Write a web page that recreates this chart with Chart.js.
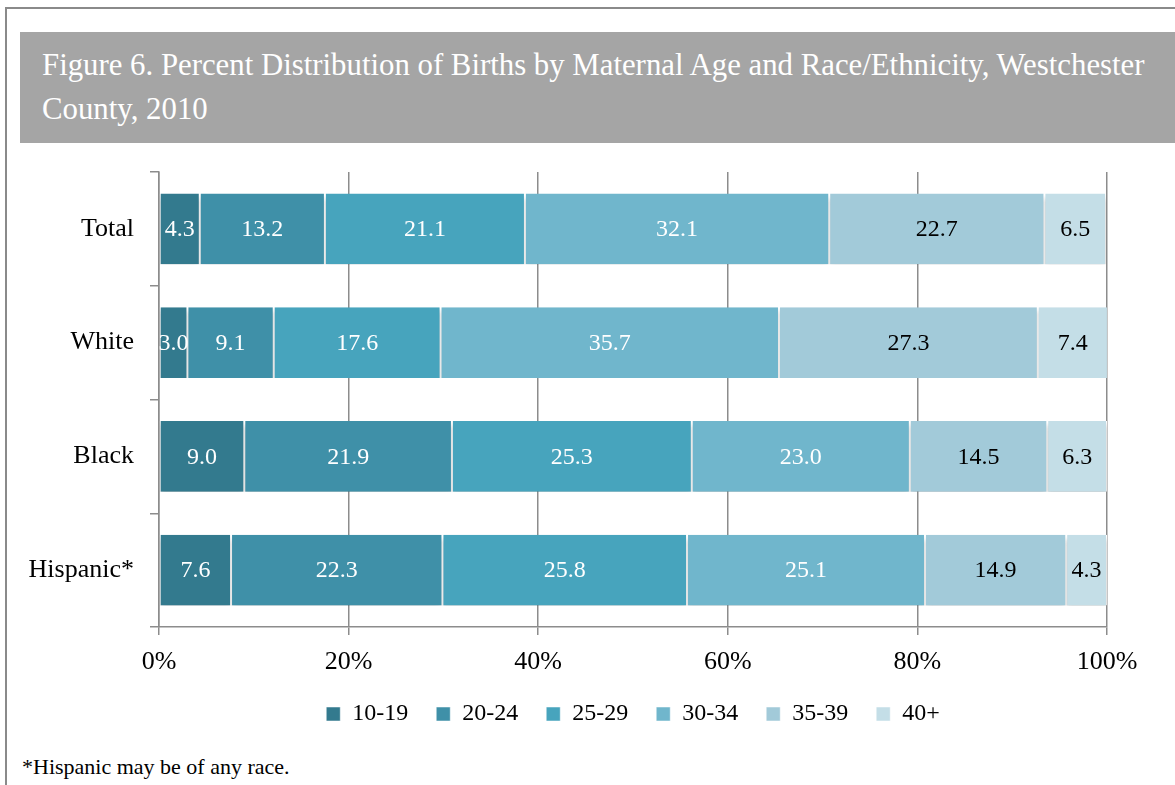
<!DOCTYPE html>
<html>
<head>
<meta charset="utf-8">
<script src="https://cdn.jsdelivr.net/npm/chart.js@4/dist/chart.umd.min.js"></script>
<style>
  body { margin: 0; background: #fff; width: 1175px; height: 785px; overflow: hidden; position: relative; font-family: "Liberation Serif", serif; }
  #frame { position: absolute; left: 5px; top: 7px; width: 1200px; height: 800px; border-left: 2px solid #8a8a8a; border-top: 2px solid #8a8a8a; }
  #title { position: absolute; left: 20px; top: 32px; width: 1160px; height: 111px; background: #a5a5a5; color: #fff; font-size: 30.8px; line-height: 44px; padding: 11px 0 0 22px; box-sizing: border-box; }
  #wrap { position: absolute; left: 0; top: 150px; width: 1175px; height: 594px; }
  #note { position: absolute; left: 22px; top: 754px; font-size: 22px; color: #000; }
</style>
</head>
<body>
<div id="frame"></div>
<div id="title">Figure 6. Percent Distribution of Births by Maternal Age and Race/Ethnicity, Westchester<br>County, 2010</div>
<div id="wrap"><canvas id="chart"></canvas></div>
<div id="note">*Hispanic may be of any race.</div>
<script>
// === данные ===
const groups = ["Total", "White", "Black", "Hispanic*"];
const ageBands = ["10-19", "20-24", "25-29", "30-34", "35-39", "40+"];
const age10to19 = [4.3, 3.0, 9.0, 7.6];
const age20to24 = [13.2, 9.1, 21.9, 22.3];
const age25to29 = [21.1, 17.6, 25.3, 25.8];
const age30to34 = [32.1, 35.7, 23.0, 25.1];
const age35to39 = [22.7, 27.3, 14.5, 14.9];
const age40plus = [6.5, 7.4, 6.3, 4.3];
const xTicks = ["0%", "20%", "40%", "60%", "80%", "100%"];

const colors = ["#337a8e", "#3f90a8", "#47a4bd", "#70b6cc", "#a2cad9", "#c4dee7"];
const labelColors = ["#fff", "#fff", "#fff", "#fff", "#000", "#000"];
const series = [age10to19, age20to24, age25to29, age30to34, age35to39, age40plus];
const serif = "'Liberation Serif', serif";

// === тень под столбцами и подписи внутри сегментов ===
const segmentLabels = {
    id: "segmentLabels",
    afterLayout(chart) {
        // легенда центрируется по области графика
        const shift = (chart.chartArea.left + chart.chartArea.right) / 2 - (chart.legend.left + chart.legend.right) / 2;
        chart.legend.left += shift;
        chart.legend.right += shift;
    },
    beforeDatasetsDraw(chart) {
        const ctx = chart.ctx;
        ctx.save();
        ctx.shadowColor = "rgba(0,0,0,0.28)";
        ctx.shadowBlur = 5;
        ctx.shadowOffsetY = 4;
    },
    afterDatasetsDraw(chart) {
        const ctx = chart.ctx;
        ctx.restore();
        ctx.save();
        ctx.font = "24px " + serif;
        ctx.textAlign = "center";
        ctx.textBaseline = "middle";
        chart.data.datasets.forEach((ds, i) => {
            chart.getDatasetMeta(i).data.forEach((bar, j) => {
                const v = ds.data[j];
                ctx.fillStyle = labelColors[i];
                ctx.fillText(v.toFixed(1), (bar.x + bar.base) / 2, bar.y + 1);
            });
        });
        ctx.restore();
    }
};

const ctx = document.getElementById("chart").getContext("2d");
new Chart(ctx, {
    type: "bar",
    data: {
        labels: groups,
        datasets: series.map((d, i) => ({
            label: ageBands[i],
            data: d,
            backgroundColor: colors[i],
            borderColor: "#fff",
            borderWidth: { left: 1, right: 1 },
            borderSkipped: false,
            barPercentage: 0.62,
            categoryPercentage: 1
        }))
    },
    options: {
        indexAxis: "y",
        responsive: true,
        maintainAspectRatio: false,
        animation: false,
        layout: { padding: { left: 0, right: 68, top: 22, bottom: 8 } },
        scales: {
            x: {
                stacked: true,
                min: 0,
                max: 100,
                afterFit: (s) => { s.height = 47; },
                ticks: {
                    stepSize: 20,
                    color: "#000",
                    padding: 12,
                    font: { family: serif, size: 26 },
                    callback: (v) => xTicks[v / 20]
                },
                grid: { color: "#8c8c8c", lineWidth: 1.5, tickLength: 8, drawOnChartArea: true },
                border: { color: "#8c8c8c", width: 1.5 }
            },
            y: {
                stacked: true,
                afterFit: (s) => { s.width = 159; s.paddingTop = 0; s.paddingBottom = 0; },
                ticks: {
                    color: "#000",
                    padding: 16,
                    font: { family: serif, size: 26 }
                },
                grid: { offset: true, drawOnChartArea: false, color: "#8c8c8c", lineWidth: 1.5, tickLength: 9 },
                border: { color: "#8c8c8c", width: 1.5 }
            }
        },
        plugins: {
            legend: {
                position: "bottom",
                labels: {
                    color: "#000",
                    boxWidth: 14,
                    boxHeight: 14,
                    padding: 28,
                    font: { family: serif, size: 24 }
                }
            },
            tooltip: { enabled: false }
        }
    },
    plugins: [segmentLabels]
});
</script>
</body>
</html>
